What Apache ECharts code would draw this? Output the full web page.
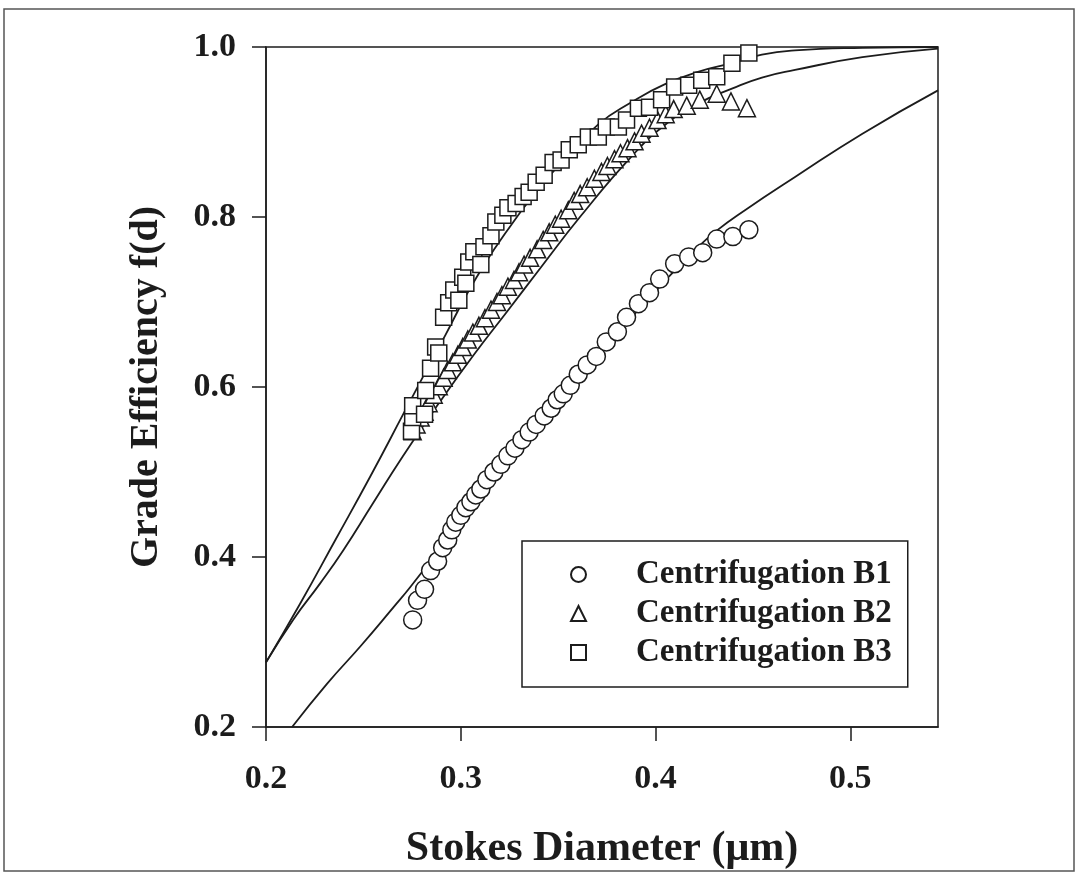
<!DOCTYPE html>
<html>
<head>
<meta charset="utf-8">
<title>Grade Efficiency vs Stokes Diameter</title>
<script src="https://cdn.jsdelivr.net/npm/echarts@6/dist/echarts.min.js"></script>
<style>
  html, body { margin: 0; padding: 0; background: #ffffff; }
  #chart { width: 1077px; height: 877px; }
</style>
</head>
<body>
<div id="chart"></div>
<script>
// Axis ticks
const xTicks = [0.2, 0.3, 0.4, 0.5];
const xMax = 0.545;
const yTicks = [0.2, 0.4, 0.6, 0.8, 1.0];

// Measured grade efficiency, [Stokes diameter (µm), f(d)]
const centrifB1 = [
  [0.2753,0.326],[0.2778,0.349],[0.2814,0.362],[0.2845,0.384],[0.2881,0.395],
  [0.2907,0.411],[0.2933,0.420],[0.2954,0.432],[0.2974,0.441],[0.3000,0.449],
  [0.3026,0.458],[0.3052,0.465],[0.3077,0.473],[0.3103,0.480],[0.3134,0.491],
  [0.3170,0.500],[0.3206,0.509],[0.3242,0.519],[0.3278,0.528],[0.3314,0.538],
  [0.3351,0.547],[0.3387,0.556],[0.3428,0.566],[0.3464,0.575],[0.3495,0.585],
  [0.3526,0.592],[0.3562,0.602],[0.3603,0.615],[0.3649,0.626],[0.3696,0.636],
  [0.3747,0.653],[0.3804,0.665],[0.3851,0.682],[0.3912,0.698],[0.3969,0.711],
  [0.4021,0.727],[0.4098,0.745],[0.4170,0.753],[0.4242,0.758],[0.4314,0.774],
  [0.4397,0.777],[0.4479,0.785]
];
const centrifB2 = [
  [0.2753,0.548],[0.2773,0.556],[0.2794,0.564],[0.2814,0.571],[0.2835,0.581],
  [0.2861,0.591],[0.2887,0.601],[0.2912,0.611],[0.2933,0.620],[0.2959,0.629],
  [0.2985,0.638],[0.3010,0.647],[0.3036,0.656],[0.3062,0.664],[0.3093,0.672],
  [0.3124,0.681],[0.3155,0.691],[0.3186,0.700],[0.3211,0.708],[0.3242,0.718],
  [0.3273,0.726],[0.3299,0.735],[0.3325,0.744],[0.3356,0.752],[0.3392,0.762],
  [0.3423,0.773],[0.3454,0.782],[0.3485,0.791],[0.3515,0.798],[0.3552,0.808],
  [0.3582,0.819],[0.3613,0.827],[0.3649,0.835],[0.3686,0.845],[0.3722,0.853],
  [0.3753,0.860],[0.3789,0.868],[0.3820,0.875],[0.3856,0.881],[0.3892,0.889],
  [0.3928,0.898],[0.3969,0.905],[0.4010,0.914],[0.4052,0.921],[0.4093,0.927],
  [0.4160,0.931],[0.4227,0.938],[0.4314,0.945],[0.4387,0.936],[0.4469,0.928]
];
const centrifB3 = [
  [0.2747,0.548],[0.2753,0.564],[0.2753,0.578],[0.2814,0.568],[0.2820,0.596],
  [0.2845,0.622],[0.2871,0.647],[0.2887,0.640],[0.2912,0.682],[0.2938,0.699],
  [0.2964,0.714],[0.2990,0.702],[0.3010,0.729],[0.3026,0.722],[0.3041,0.747],
  [0.3067,0.759],[0.3103,0.744],[0.3119,0.765],[0.3155,0.778],[0.3180,0.794],
  [0.3216,0.802],[0.3242,0.811],[0.3284,0.816],[0.3320,0.824],[0.3351,0.829],
  [0.3387,0.841],[0.3428,0.849],[0.3474,0.864],[0.3515,0.867],[0.3557,0.879],
  [0.3603,0.885],[0.3655,0.894],[0.3706,0.894],[0.3747,0.906],[0.3809,0.906],
  [0.3851,0.914],[0.3912,0.928],[0.3969,0.929],[0.4031,0.938],[0.4098,0.953],
  [0.4170,0.955],[0.4237,0.961],[0.4314,0.965],[0.4392,0.981],[0.4479,0.993]
];

// Fitted grade-efficiency curves
const fitB1 = [
  [0.2134,0.200],[0.2314,0.251],[0.2485,0.295],[0.2655,0.341],[0.2742,0.365],
  [0.2948,0.426],[0.3206,0.502],[0.3464,0.573],[0.3722,0.641],[0.3928,0.695],
  [0.4082,0.733],[0.4201,0.761],[0.4314,0.784],[0.4459,0.808],[0.4716,0.847],
  [0.5062,0.898],[0.5450,0.949]
];
const fitB2 = [
  [0.2000,0.276],[0.2139,0.326],[0.2278,0.369],[0.2397,0.408],[0.2546,0.462],
  [0.2701,0.518],[0.2897,0.584],[0.3067,0.638],[0.3242,0.690],[0.3402,0.738],
  [0.3619,0.802],[0.3876,0.871],[0.4046,0.908],[0.4222,0.934],[0.4392,0.951],
  [0.4546,0.964],[0.4716,0.973],[0.5062,0.988],[0.5450,0.998]
];
const fitB3 = [
  [0.2000,0.276],[0.2175,0.345],[0.2356,0.420],[0.2536,0.495],[0.2716,0.573],
  [0.2820,0.618],[0.2923,0.662],[0.3026,0.707],[0.3129,0.747],[0.3232,0.782],
  [0.3361,0.822],[0.3515,0.864],[0.3706,0.909],[0.3876,0.935],[0.4046,0.956],
  [0.4222,0.971],[0.4392,0.981],[0.4546,0.991],[0.4716,0.996],[0.5062,0.999],
  [0.5450,1.000]
];

const seriesNames = ['Centrifugation B1', 'Centrifugation B2', 'Centrifugation B3'];

const INK = '#1c1c1c';
const FONT = '"Liberation Serif", "Times New Roman", serif';

function fitLine(data) {
  return {
    type: 'line',
    data: data,
    smooth: 0.5,
    showSymbol: false,
    silent: true,
    z: 2,
    lineStyle: { color: INK, width: 1.8 }
  };
}

function markers(name, data, symbol, size) {
  return {
    name: name,
    type: 'scatter',
    data: data,
    symbol: symbol,
    symbolSize: size,
    z: 3,
    itemStyle: { color: '#ffffff', borderColor: INK, borderWidth: 1.5, opacity: 1 }
  };
}

const chart = echarts.init(document.getElementById('chart'), null, { renderer: 'canvas' });

chart.setOption({
  backgroundColor: '#ffffff',
  animation: false,
  textStyle: { fontFamily: FONT, color: INK },
  graphic: [{
    type: 'rect',
    shape: { x: 4, y: 9, width: 1070, height: 862 },
    style: { fill: 'none', stroke: '#555555', lineWidth: 1.5 },
    silent: true,
    z: -10
  }],
  grid: {
    left: 266, top: 47, width: 672, height: 680,
    show: true, borderColor: INK, borderWidth: 1.5, backgroundColor: 'transparent'
  },
  legend: {
    data: seriesNames,
    orient: 'vertical',
    left: 522, top: 541,
    width: 386,
    padding: [17, 16, 18, 48],
    itemGap: 6,
    itemWidth: 15, itemHeight: 15,
    backgroundColor: '#ffffff',
    borderColor: INK, borderWidth: 1.5,
    textStyle: {
      fontFamily: FONT, fontWeight: 'bold', fontSize: 33, color: INK,
      lineHeight: 33, padding: [0, 0, 0, 45]
    },
    selectedMode: false
  },
  xAxis: {
    type: 'value',
    min: xTicks[0], max: xMax, interval: 0.1,
    name: 'Stokes Diameter (\u03BCm)',
    nameLocation: 'middle', nameGap: 101,
    nameTextStyle: { fontFamily: FONT, fontWeight: 'bold', fontSize: 42, color: INK },
    axisLine: { show: true, onZero: false, lineStyle: { color: INK, width: 1.5 } },
    axisTick: { show: true, length: 14, inside: false, lineStyle: { color: INK, width: 1.5 } },
    axisLabel: {
      margin: 35, fontFamily: FONT, fontWeight: 'bold', fontSize: 34, color: INK,
      formatter: v => xTicks.some(t => Math.abs(t - v) < 1e-9) ? v.toFixed(1) : '',
      showMaxLabel: false
    },
    splitLine: { show: false }
  },
  yAxis: {
    type: 'value',
    min: yTicks[0], max: yTicks[yTicks.length - 1], interval: 0.2,
    name: 'Grade Efficiency f(d)',
    nameLocation: 'middle', nameGap: 99, nameRotate: 90,
    nameTextStyle: { fontFamily: FONT, fontWeight: 'bold', fontSize: 40, color: INK },
    axisLine: { show: true, onZero: false, lineStyle: { color: INK, width: 1.5 } },
    axisTick: { show: true, length: 14, inside: false, lineStyle: { color: INK, width: 1.5 } },
    axisLabel: {
      margin: 30, fontFamily: FONT, fontWeight: 'bold', fontSize: 34, color: INK,
      formatter: v => v.toFixed(1)
    },
    splitLine: { show: false }
  },
  series: [
    fitLine(fitB1),
    fitLine(fitB2),
    fitLine(fitB3),
    markers(seriesNames[0], centrifB1, 'circle', 18),
    markers(seriesNames[1], centrifB2, 'triangle', 17),
    markers(seriesNames[2], centrifB3, 'rect', 16)
  ]
});
</script>
</body>
</html>
